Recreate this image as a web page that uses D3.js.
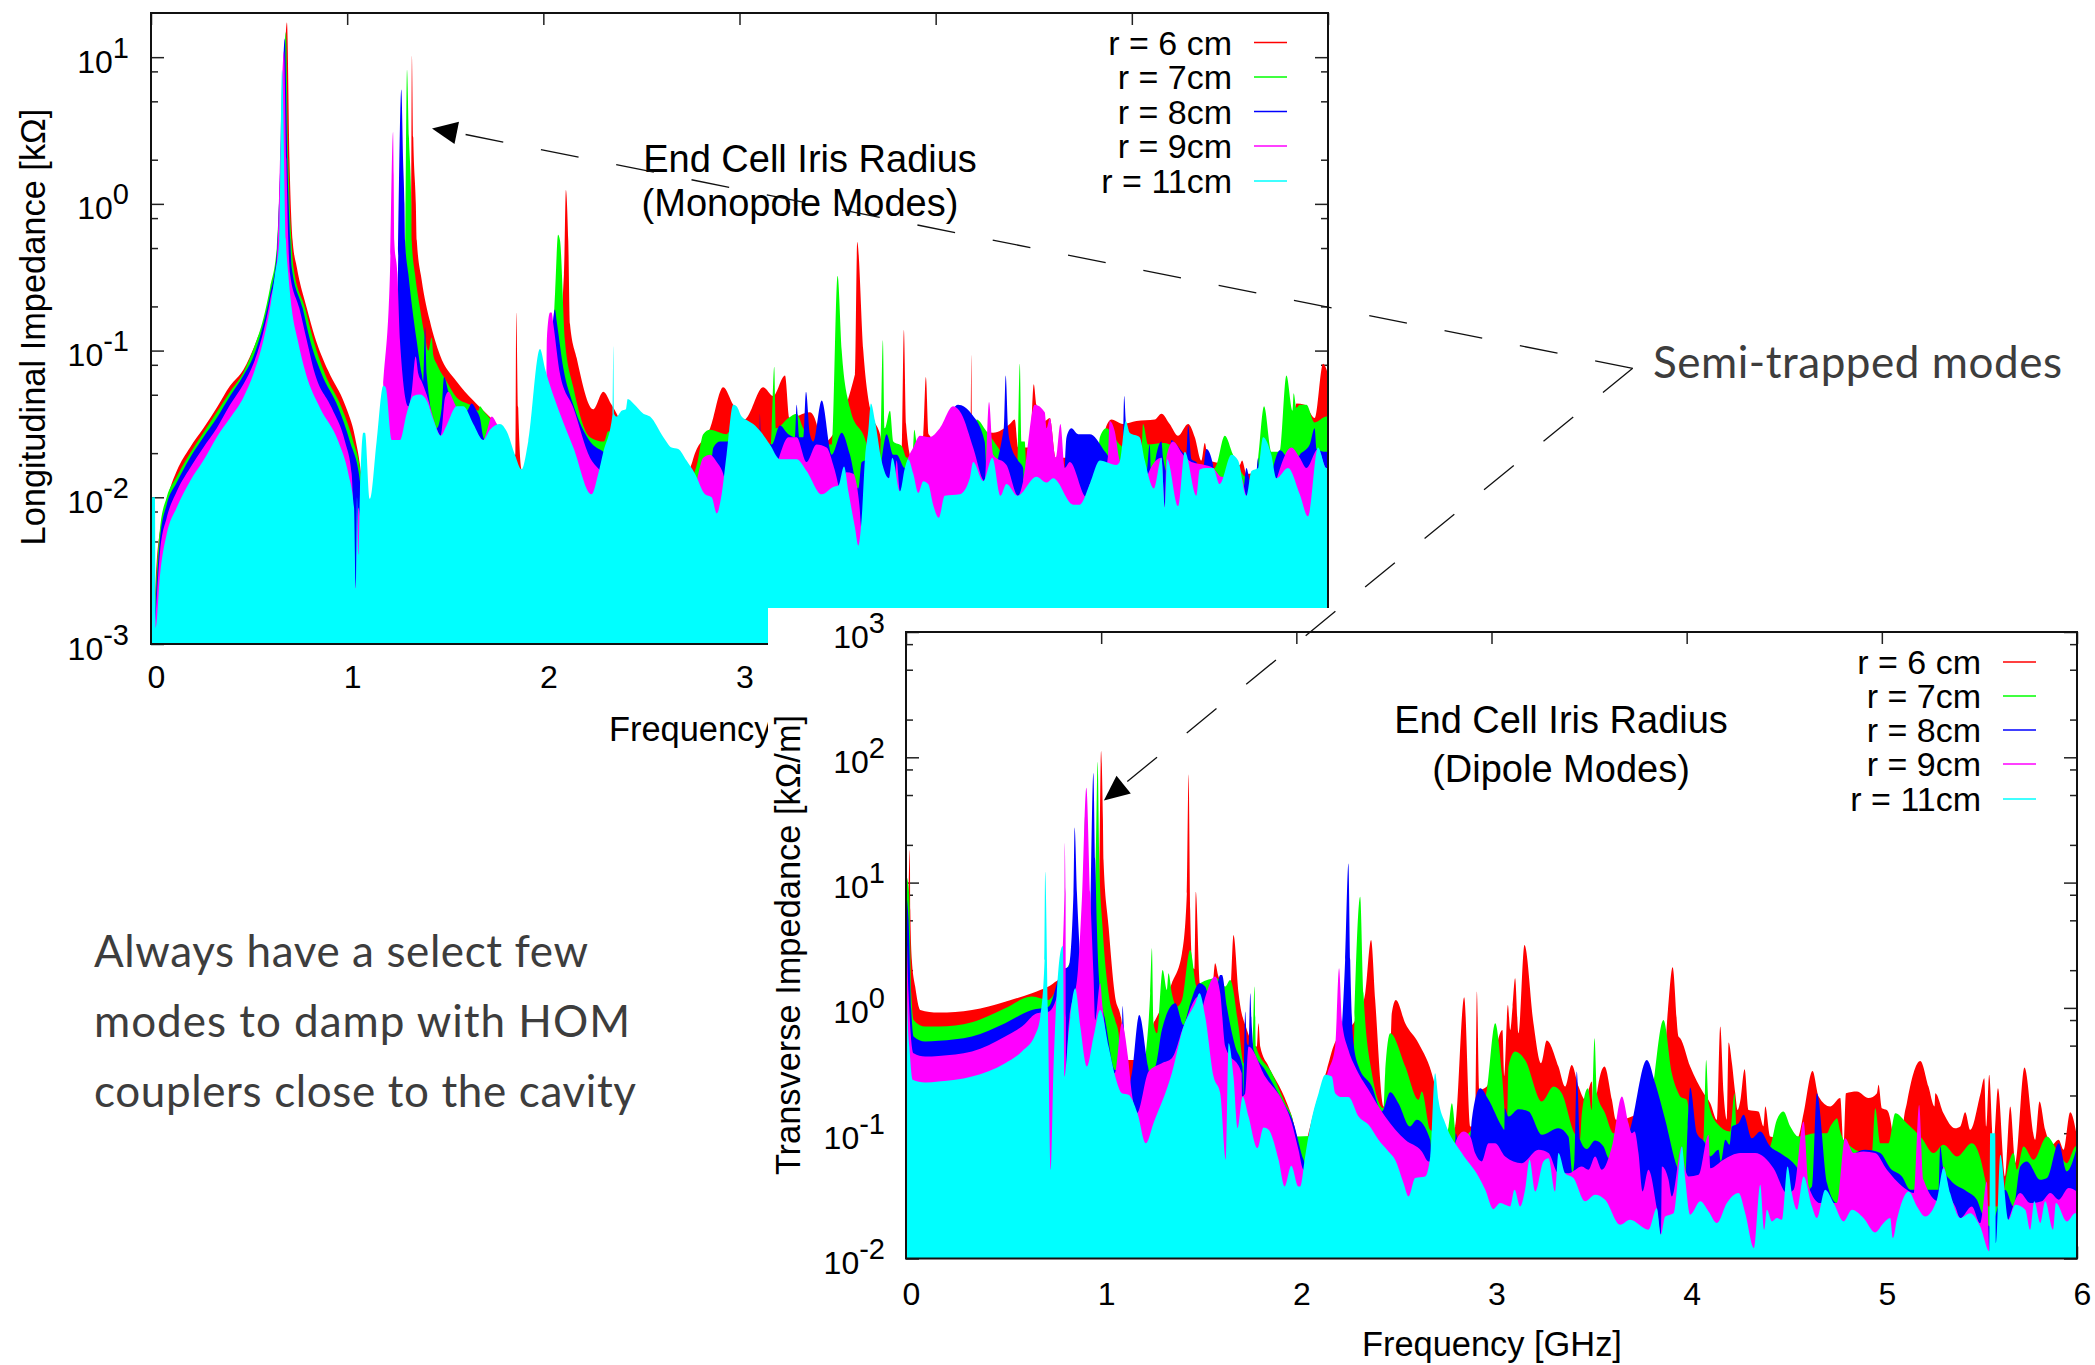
<!DOCTYPE html>
<html>
<head>
<meta charset="utf-8">
<script src="https://cdn.jsdelivr.net/npm/d3@7"></script>
<style>
  html, body { margin: 0; background: #fff; }
  svg { display: block; }
</style>
</head>
<body>
<svg id="chart" width="2095" height="1365"></svg>
<script>
// Every series is a list of [frequency in GHz, log10 of the impedance].
// Longitudinal impedance is in kOhm, transverse impedance in kOhm/m.

const seriesNames = ["r = 6 cm", "r = 7cm", "r = 8cm", "r = 9cm", "r = 11cm"];
const seriesColors = ["#ff0000", "#00ff00", "#0000ff", "#ff00ff", "#00ffff"];
const freqTicks = [0, 1, 2, 3, 4, 5, 6];
const monoDecades = [-3, -2, -1, 0, 1];
const dipoleDecades = [-2, -1, 0, 1, 2, 3];
const minorMantissas = [2, 5, 8];

const monoR6 = [[0.012,-3],[0.029,-2.44],[0.063,-2.12],[0.097,-1.94],[0.131,-1.82],[0.199,-1.66],[0.267,-1.53],[0.335,-1.39],[0.403,-1.24],[0.471,-1.13],[0.539,-0.93],[0.59,-0.73],[0.624,-0.52],[0.649,-0.32],[0.666,0.3],[0.693,1.237],[0.706,0.3],[0.722,-0.25],[0.743,-0.43],[0.794,-0.71],[0.836,-0.91],[0.904,-1.14],[0.989,-1.37],[1.04,-1.59],[1.071,-1.84],[1.1,-2.3],[1.3,-1.6],[1.325,-0.25],[1.33,1.01],[1.337,0.45],[1.35,0],[1.355,-0.25],[1.38,-0.52],[1.422,-0.8],[1.473,-1.03],[1.558,-1.21],[1.643,-1.34],[1.711,-1.43],[1.762,-1.5],[1.847,-1.71],[1.857,-1.71],[1.862,-0.74],[1.872,-1.39],[1.889,-1.81],[2.0,-1.9],[2.105,-0.48],[2.115,0.095],[2.127,-0.25],[2.136,-0.82],[2.17,-1.05],[2.255,-1.4],[2.306,-1.28],[2.348,-1.37],[2.374,-1.43],[2.5,-1.9],[2.73,-1.82],[2.748,-1.8],[2.773,-1.7],[2.85,-1.53],[2.917,-1.25],[2.968,-1.37],[3.028,-1.47],[3.036,-1.46],[3.121,-1.25],[3.172,-1.31],[3.232,-1.17],[3.254,-1.46],[3.359,-1.42],[3.393,-1.5],[3.41,-1.64],[3.589,-1.16],[3.6,-0.26],[3.631,-1.0],[3.665,-1.39],[3.716,-1.57],[3.741,-1.71],[3.827,-1.71],[3.838,-0.86],[3.849,-1.5],[3.877,-1.73],[3.928,-1.62],[3.937,-1.57],[3.95,-1.18],[3.964,-1.57],[4.14,-1.73],[4.177,-1.62],[4.182,-1.03],[4.187,-1.55],[4.293,-1.56],[4.378,-1.5],[4.403,-1.47],[4.42,-1.66],[4.48,-1.66],[4.5,-1.23],[4.514,-1.37],[4.556,-1.48],[4.582,-1.46],[4.612,-1.73],[4.845,-1.73],[4.862,-1.55],[4.896,-1.47],[4.955,-1.5],[5.023,-1.48],[5.117,-1.47],[5.151,-1.43],[5.193,-1.5],[5.236,-1.58],[5.287,-1.5],[5.321,-1.59],[5.355,-1.75],[5.372,-1.63],[5.389,-1.75],[5.55,-1.78],[5.562,-1.75],[5.584,-1.84],[5.822,-1.53],[5.839,-1.36],[5.881,-1.37],[5.932,-1.46],[5.975,-1.09],[6,-1.16]];

const monoR7 = [[0.012,-3],[0.026,-2.59],[0.046,-2.21],[0.08,-2.0],[0.131,-1.86],[0.199,-1.7],[0.267,-1.56],[0.335,-1.42],[0.403,-1.28],[0.471,-1.15],[0.522,-0.99],[0.573,-0.78],[0.607,-0.57],[0.641,-0.3],[0.662,0.3],[0.688,1.17],[0.7,0.3],[0.716,-0.25],[0.726,-0.43],[0.785,-0.71],[0.828,-0.93],[0.887,-1.16],[0.972,-1.39],[1.031,-1.62],[1.069,-1.84],[1.074,-2.07],[1.252,-2.07],[1.295,-0.48],[1.305,0.914],[1.315,0.45],[1.327,0],[1.329,-0.25],[1.346,-0.48],[1.371,-0.71],[1.397,-0.91],[1.414,-1.0],[1.431,-0.91],[1.439,-1.03],[1.456,-1.09],[1.507,-1.21],[1.558,-1.32],[1.626,-1.37],[1.669,-1.41],[1.677,-1.38],[1.694,-1.41],[1.737,-1.48],[1.85,-1.9],[2.017,-1.66],[2.06,-0.6],[2.075,-0.21],[2.085,-0.25],[2.11,-0.93],[2.153,-1.25],[2.238,-1.59],[2.309,-1.62],[2.331,-1.55],[2.5,-1.9],[2.765,-1.84],[2.782,-1.78],[2.815,-1.57],[2.85,-1.54],[2.934,-1.57],[2.951,-1.55],[2.96,-1.73],[3.155,-1.73],[3.164,-1.53],[3.177,-1.11],[3.186,-1.53],[3.249,-1.46],[3.291,-1.43],[3.325,-1.53],[3.376,-1.62],[3.47,-1.64],[3.5,-0.49],[3.521,-1.0],[3.563,-1.39],[3.651,-1.66],[3.665,-1.8],[3.716,-1.73],[3.731,-0.93],[3.741,-1.53],[3.767,-1.41],[3.784,-1.62],[3.827,-1.65],[3.852,-1.73],[3.883,-1.7],[3.891,-1.54],[3.903,-1.62],[4.1,-1.9],[4.191,-1.84],[4.208,-1.47],[4.259,-1.55],[4.344,-1.71],[4.415,-1.84],[4.429,-1.09],[4.437,-1.62],[4.454,-1.62],[4.463,-1.84],[4.82,-1.84],[4.837,-1.59],[4.87,-1.53],[4.938,-1.64],[5.049,-1.71],[5.057,-1.5],[5.083,-1.64],[5.159,-1.63],[5.193,-1.64],[5.278,-1.84],[5.423,-1.8],[5.431,-1.78],[5.474,-1.58],[5.516,-1.71],[5.576,-1.86],[5.627,-1.89],[5.644,-1.73],[5.674,-1.38],[5.711,-1.69],[5.754,-1.69],[5.788,-1.17],[5.819,-1.41],[5.825,-1.29],[5.839,-1.39],[5.856,-1.37],[5.89,-1.37],[5.932,-1.49],[5.992,-1.45],[6,-1.45]];

const monoR8 = [[0.012,-3],[0.026,-2.66],[0.046,-2.28],[0.08,-2.05],[0.131,-1.9],[0.199,-1.73],[0.267,-1.59],[0.335,-1.46],[0.403,-1.31],[0.471,-1.17],[0.522,-1.04],[0.573,-0.82],[0.607,-0.62],[0.641,-0.34],[0.66,0.3],[0.682,1.128],[0.695,0.3],[0.71,-0.25],[0.717,-0.43],[0.773,-0.71],[0.811,-0.93],[0.87,-1.16],[0.955,-1.39],[1.014,-1.62],[1.065,-1.89],[1.074,-2.3],[1.167,-2.3],[1.252,-0.93],[1.276,0.78],[1.285,0.3],[1.292,0],[1.295,-0.25],[1.312,-0.48],[1.354,-0.93],[1.38,-1.16],[1.388,-1.21],[1.397,-0.84],[1.405,-1.16],[1.456,-1.53],[1.482,-1.39],[1.494,-1.18],[1.516,-1.28],[1.558,-1.41],[1.609,-1.41],[1.635,-1.36],[1.66,-1.41],[1.677,-1.46],[1.694,-1.59],[1.85,-1.9],[2.017,-1.62],[2.042,-0.93],[2.059,-0.72],[2.068,-0.8],[2.102,-1.12],[2.153,-1.37],[2.238,-1.62],[2.306,-1.69],[2.5,-1.9],[2.748,-2.07],[2.85,-1.84],[2.867,-1.66],[2.901,-1.62],[2.943,-1.62],[2.951,-1.84],[3.07,-1.84],[3.102,-1.62],[3.104,-1.43],[3.109,-1.59],[3.164,-1.64],[3.206,-1.51],[3.249,-1.57],[3.283,-1.59],[3.291,-1.37],[3.305,-1.59],[3.325,-1.59],[3.339,-1.28],[3.359,-1.57],[3.376,-1.62],[3.419,-1.34],[3.47,-1.71],[3.521,-1.56],[3.563,-1.71],[3.606,-1.94],[3.623,-1.76],[3.645,-1.75],[3.648,-2.07],[3.699,-2.07],[3.728,-1.71],[3.75,-1.57],[3.784,-1.71],[3.801,-1.71],[3.843,-1.8],[3.869,-1.76],[3.937,-1.59],[3.987,-1.59],[4.004,-1.59],[4.114,-1.37],[4.182,-1.43],[4.25,-1.62],[4.262,-1.89],[4.347,-1.53],[4.357,-1.17],[4.369,-1.53],[4.378,-1.62],[4.42,-1.75],[4.446,-1.8],[4.451,-1.98],[4.65,-1.96],[4.667,-1.59],[4.692,-1.53],[4.726,-1.57],[4.786,-1.57],[4.853,-1.67],[4.887,-1.75],[4.896,-1.96],[4.952,-1.84],[4.961,-1.31],[4.969,-1.48],[4.989,-1.84],[5.074,-1.84],[5.091,-1.64],[5.1,-1.94],[5.122,-1.73],[5.151,-1.62],[5.159,-1.73],[5.185,-1.84],[5.202,-1.61],[5.227,-1.64],[5.278,-1.71],[5.287,-1.51],[5.304,-1.74],[5.329,-1.76],[5.355,-1.89],[5.38,-1.67],[5.414,-1.78],[5.431,-1.96],[5.567,-1.96],[5.584,-1.8],[5.598,-1.87],[5.61,-1.96],[5.627,-1.96],[5.644,-1.73],[5.649,-1.84],[5.703,-1.89],[5.72,-1.8],[5.754,-1.68],[5.796,-1.75],[5.813,-1.8],[5.856,-1.71],[5.907,-1.64],[5.932,-1.53],[5.941,-1.67],[5.992,-1.69],[6,-1.69]];

const monoR9 = [[0.012,-3],[0.026,-2.75],[0.046,-2.37],[0.08,-2.14],[0.131,-1.96],[0.199,-1.8],[0.267,-1.66],[0.335,-1.53],[0.403,-1.37],[0.471,-1.23],[0.522,-1.09],[0.573,-0.87],[0.607,-0.66],[0.641,-0.39],[0.678,1.04],[0.69,0.3],[0.7,-0.25],[0.709,-0.48],[0.756,-0.71],[0.794,-0.93],[0.836,-1.16],[0.921,-1.39],[0.989,-1.62],[1.023,-1.84],[1.045,-2.62],[1.057,-2.07],[1.082,-2.3],[1.167,-1.62],[1.184,-1.24],[1.218,-0.48],[1.234,0.49],[1.237,0.2],[1.24,-0.25],[1.256,-0.48],[1.269,-0.93],[1.312,-1.38],[1.329,-1.28],[1.349,-1.04],[1.363,-1.16],[1.38,-1.21],[1.405,-1.3],[1.456,-1.53],[1.477,-1.58],[1.499,-1.32],[1.516,-1.28],[1.541,-1.34],[1.558,-1.39],[1.66,-1.56],[1.694,-1.61],[1.714,-1.54],[1.737,-1.45],[1.762,-1.5],[1.796,-1.62],[1.9,-1.9],[2.015,-1.5],[2.018,-0.92],[2.034,-0.74],[2.042,-0.74],[2.051,-0.82],[2.085,-1.16],[2.153,-1.39],[2.238,-1.73],[2.285,-1.81],[2.493,-2.07],[2.781,-1.89],[2.79,-1.84],[2.815,-1.73],[2.85,-1.71],[2.884,-1.76],[2.921,-1.86],[2.951,-2.07],[3.138,-2.07],[3.206,-1.71],[3.249,-1.59],[3.291,-1.59],[3.342,-1.76],[3.393,-1.64],[3.444,-1.66],[3.478,-1.78],[3.504,-1.92],[3.521,-2.07],[3.543,-1.83],[3.58,-1.84],[3.597,-1.91],[3.611,-2.05],[3.623,-2.23],[3.784,-2.07],[3.801,-1.75],[3.818,-1.96],[3.86,-1.73],[3.886,-1.66],[3.92,-1.58],[3.97,-1.59],[4.021,-1.53],[4.089,-1.38],[4.131,-1.43],[4.191,-1.66],[4.25,-1.89],[4.272,-1.35],[4.293,-1.71],[4.361,-1.78],[4.42,-1.99],[4.446,-1.89],[4.505,-1.37],[4.556,-1.42],[4.565,-1.53],[4.582,-1.46],[4.612,-1.73],[4.636,-1.5],[4.658,-1.8],[4.684,-1.76],[4.769,-2.0],[4.786,-1.91],[4.82,-2.07],[4.879,-1.71],[4.887,-1.48],[4.913,-1.55],[4.938,-1.75],[5.057,-1.96],[5.083,-1.84],[5.151,-1.73],[5.168,-2.07],[5.176,-1.73],[5.21,-1.62],[5.261,-1.71],[5.304,-1.76],[5.372,-1.78],[5.414,-1.8],[5.457,-1.86],[5.559,-1.87],[5.584,-1.99],[5.669,-2.07],[5.813,-1.66],[5.856,-1.73],[5.89,-1.8],[5.949,-1.67],[5.992,-1.8],[6,-1.8]];

const monoR11 = [[0.003,-2.0],[0.02,-2.0],[0.024,-2.89],[0.046,-2.53],[0.08,-2.25],[0.131,-2.07],[0.199,-1.89],[0.267,-1.75],[0.335,-1.59],[0.403,-1.46],[0.471,-1.32],[0.522,-1.16],[0.573,-0.93],[0.607,-0.71],[0.632,-0.48],[0.654,-0.25],[0.668,0.914],[0.688,-0.25],[0.7,-0.48],[0.717,-0.71],[0.748,-0.93],[0.79,-1.16],[0.861,-1.39],[0.955,-1.62],[1.006,-1.84],[1.035,-2.07],[1.045,-2.62],[1.05,-2.0],[1.057,-2.39],[1.065,-1.98],[1.082,-1.56],[1.091,-1.56],[1.116,-2.01],[1.15,-1.62],[1.184,-1.24],[1.196,-1.25],[1.227,-1.61],[1.269,-1.61],[1.303,-1.43],[1.337,-1.31],[1.371,-1.3],[1.405,-1.34],[1.439,-1.47],[1.477,-1.58],[1.507,-1.51],[1.558,-1.38],[1.592,-1.38],[1.643,-1.5],[1.694,-1.61],[1.728,-1.54],[1.779,-1.5],[1.813,-1.55],[1.855,-1.71],[1.889,-1.81],[1.923,-1.62],[1.983,-0.99],[2.008,-1.12],[2.085,-1.43],[2.153,-1.66],[2.246,-1.98],[2.28,-1.84],[2.306,-1.69],[2.353,-1.43],[2.357,-0.97],[2.36,-1.43],[2.374,-1.45],[2.399,-1.41],[2.421,-1.4],[2.43,-1.33],[2.459,-1.36],[2.51,-1.43],[2.544,-1.45],[2.612,-1.59],[2.654,-1.66],[2.688,-1.67],[2.73,-1.75],[2.773,-1.84],[2.824,-1.98],[2.858,-2.0],[2.884,-2.11],[2.909,-1.98],[2.934,-1.71],[2.968,-1.37],[2.985,-1.38],[3.011,-1.45],[3.045,-1.48],[3.07,-1.5],[3.113,-1.56],[3.155,-1.64],[3.206,-1.74],[3.249,-1.74],[3.291,-1.74],[3.342,-1.82],[3.419,-1.98],[3.478,-1.93],[3.504,-1.92],[3.533,-1.79],[3.555,-1.96],[3.589,-2.21],[3.606,-2.33],[3.623,-2.14],[3.64,-1.73],[3.656,-1.55],[3.67,-1.36],[3.691,-1.48],[3.724,-1.75],[3.762,-1.87],[3.779,-1.73],[3.818,-1.96],[3.843,-1.8],[3.86,-1.74],[3.886,-1.84],[3.911,-1.97],[3.937,-1.89],[3.962,-1.91],[3.987,-2.05],[4.016,-2.14],[4.046,-1.99],[4.123,-1.98],[4.174,-1.87],[4.191,-1.76],[4.242,-1.89],[4.289,-1.73],[4.33,-1.99],[4.361,-1.91],[4.417,-1.99],[4.514,-1.86],[4.565,-1.9],[4.599,-1.87],[4.701,-2.05],[4.735,-2.05],[4.786,-1.91],[4.837,-1.75],[4.921,-1.78],[4.938,-1.76],[4.969,-1.48],[4.989,-1.56],[5.04,-1.59],[5.066,-1.75],[5.112,-1.94],[5.151,-1.73],[5.168,-2.07],[5.18,-1.74],[5.236,-2.06],[5.27,-1.69],[5.329,-1.99],[5.346,-1.81],[5.38,-1.8],[5.414,-1.8],[5.448,-1.91],[5.508,-1.71],[5.542,-1.75],[5.584,-1.99],[5.61,-1.82],[5.644,-1.8],[5.669,-1.59],[5.711,-1.71],[5.737,-1.87],[5.796,-1.8],[5.856,-1.98],[5.898,-2.13],[5.949,-1.66],[5.992,-1.8],[6,-1.8]];

const dipoleR6 = [[0.01,0.648],[0.02,1.26],[0.022,0.781],[0.03,0.383],[0.047,0.17],[0.073,-0.016],[0.167,-0.037],[0.338,-0.016],[0.508,0.05],[0.645,0.117],[0.73,0.17],[0.79,0.223],[0.884,0.223],[0.987,0.648],[0.9995,2.05],[1.009,1.5],[1.012,1.18],[1.038,0.648],[1.069,0.117],[1.106,-0.122],[1.123,-0.415],[1.251,-0.415],[1.268,-0.122],[1.277,-0.096],[1.362,0.197],[1.414,0.436],[1.439,0.914],[1.448,1.863],[1.456,0.781],[1.468,0.329],[1.478,0.31],[1.485,0.927],[1.507,0.197],[1.525,0.197],[1.567,0.117],[1.584,0.356],[1.601,0.25],[1.661,0.117],[1.678,0.582],[1.704,0.117],[1.747,-0.176],[1.798,-0.309],[1.806,-0.122],[1.815,-0.309],[1.858,-0.468],[1.926,-0.667],[1.952,-0.76],[1.977,-0.867],[2.003,-1.03],[2.03,-1.2],[2.062,-1.0],[2.088,-0.84],[2.156,-0.495],[2.19,-0.309],[2.319,-0.043],[2.353,0.117],[2.383,0.542],[2.404,0.064],[2.447,-0.787],[2.481,-0.415],[2.489,-0.043],[2.51,0.064],[2.558,-0.122],[2.626,-0.282],[2.703,-0.574],[2.745,-0.893],[2.78,-1.026],[2.814,-0.946],[2.86,0.085],[2.891,-0.946],[2.916,-0.946],[2.925,0.13],[2.937,-0.654],[2.976,-0.628],[3.056,-0.176],[3.065,-0.548],[3.084,0.024],[3.096,-0.176],[3.108,0.01],[3.121,0.236],[3.138,-0.202],[3.169,0.502],[3.215,-0.122],[3.254,-0.441],[3.283,-0.261],[3.343,-0.468],[3.377,-0.628],[3.411,-0.455],[3.446,-0.628],[3.48,-0.734],[3.514,-0.588],[3.523,-1.053],[3.54,-0.681],[3.579,-0.468],[3.617,-0.734],[3.637,-0.893],[3.873,-0.681],[3.904,-0.016],[3.928,0.324],[3.958,-0.229],[3.967,-0.242],[4.018,-0.468],[4.087,-0.681],[4.121,-0.76],[4.155,-0.893],[4.172,-0.149],[4.189,-0.681],[4.206,-0.893],[4.215,-0.277],[4.232,-0.441],[4.249,-0.681],[4.261,-0.814],[4.274,-0.747],[4.297,-0.489],[4.317,-0.814],[4.368,-0.827],[4.394,-0.946],[4.403,-0.787],[4.428,-1.026],[4.556,-1.053],[4.573,-1.026],[4.599,-0.84],[4.645,-0.503],[4.676,-0.707],[4.736,-0.787],[4.787,-0.72],[4.804,-1.106],[4.816,-0.681],[4.872,-0.667],[4.932,-0.72],[4.975,-0.681],[4.983,-0.614],[5.0,-0.8],[5.026,-0.814],[5.052,-0.973],[5.06,-1.106],[5.103,-1.106],[5.111,-0.92],[5.128,-0.76],[5.197,-0.423],[5.239,-0.628],[5.27,-0.787],[5.274,-0.681],[5.316,-0.84],[5.376,-0.96],[5.402,-0.946],[5.427,-0.832],[5.453,-0.973],[5.504,-0.694],[5.525,-0.561],[5.535,-0.946],[5.55,-0.534],[5.573,-1.08],[5.595,-0.641],[5.632,-1.345],[5.658,-0.787],[5.684,-1.239],[5.731,-0.476],[5.786,-1.053],[5.808,-0.747],[5.837,-0.973],[5.871,-1.093],[5.906,-1.053],[5.931,-1.133],[5.965,-0.832],[6,-1.026]];

const dipoleR7 = [[0.004,1.047],[0.016,0.914],[0.027,0.117],[0.039,-0.096],[0.098,-0.149],[0.167,-0.149],[0.338,-0.114],[0.508,-0.003],[0.645,0.09],[0.73,0.064],[0.79,0.21],[0.85,0.383],[0.888,0.436],[0.91,0.914],[0.918,1.54],[0.927,0.914],[0.95,0.5],[0.973,1.18],[0.982,1.965],[0.99,1.18],[1.007,0.648],[1.038,0.117],[1.072,-0.1],[1.089,-0.202],[1.106,-0.628],[1.212,-0.628],[1.226,-0.415],[1.251,0.117],[1.26,0.476],[1.268,-0.122],[1.286,-0.202],[1.315,0.303],[1.337,0.143],[1.345,0.276],[1.362,0.117],[1.388,0.01],[1.414,0.064],[1.456,0.462],[1.49,0.17],[1.507,0.197],[1.593,0.236],[1.636,0.17],[1.661,0.223],[1.704,-0.149],[1.73,-0.441],[1.772,-0.415],[1.786,0.17],[1.793,-0.309],[1.875,-0.521],[1.943,-0.76],[1.977,-0.867],[2.003,-1.026],[2.284,-0.946],[2.298,-0.096],[2.327,0.888],[2.344,0.117],[2.387,-0.521],[2.447,-0.8],[2.455,-0.521],[2.481,-0.202],[2.558,-0.468],[2.626,-0.734],[2.643,-0.667],[2.686,-0.973],[2.763,-1.026],[2.78,-0.946],[2.797,-0.76],[2.822,-1.053],[2.959,-0.787],[2.976,-0.654],[3.019,-0.122],[3.053,-0.521],[3.079,-0.973],[3.087,-0.468],[3.121,-0.348],[3.172,-0.415],[3.258,-0.747],[3.318,-0.628],[3.36,-0.681],[3.425,-1.0],[3.454,-1.053],[3.463,-0.84],[3.494,-0.641],[3.514,-0.814],[3.528,-0.242],[3.54,-0.681],[3.582,-0.84],[3.625,-1.0],[3.804,-0.946],[3.83,-0.601],[3.881,-0.096],[3.924,-0.521],[3.958,-0.681],[3.967,-0.707],[4.001,-0.734],[4.018,-0.9],[4.052,-1.1],[4.087,-1.053],[4.1,-0.415],[4.112,-0.76],[4.155,-0.92],[4.223,-0.986],[4.245,-0.681],[4.257,-1.0],[4.411,-1.133],[4.428,-1.106],[4.462,-0.893],[4.496,-0.827],[4.531,-0.946],[4.573,-1.026],[4.659,-1.0],[4.719,-1.0],[4.736,-0.946],[4.761,-0.893],[4.77,-0.88],[4.787,-0.986],[4.804,-1.053],[4.923,-1.159],[4.949,-1.159],[4.966,-0.8],[4.992,-1.08],[5.034,-1.08],[5.069,-0.84],[5.128,-0.92],[5.205,-1.04],[5.265,-1.159],[5.316,-1.093],[5.385,-1.186],[5.461,-1.08],[5.53,-1.372],[5.547,-1.584],[5.615,-1.584],[5.632,-1.398],[5.675,-1.159],[5.692,-1.292],[5.726,-1.106],[5.777,-1.212],[5.846,-1.026],[5.906,-1.159],[5.948,-1.239],[5.991,-1.106],[6,-1.1]];

const dipoleR8 = [[0.001,0.914],[0.013,0.702],[0.027,-0.016],[0.039,-0.229],[0.098,-0.269],[0.167,-0.263],[0.338,-0.229],[0.508,-0.122],[0.645,-0.016],[0.73,0.01],[0.799,0.303],[0.833,0.33],[0.858,0.914],[0.864,1.44],[0.876,0.914],[0.893,0.383],[0.927,-0.149],[0.944,0.648],[0.96,1.874],[0.97,1.18],[0.978,0.648],[0.995,0.117],[1.021,-0.1],[1.072,-0.495],[1.103,-0.495],[1.11,0.016],[1.116,-0.149],[1.14,-0.628],[1.157,-0.521],[1.195,-0.056],[1.24,-0.468],[1.251,-0.548],[1.286,-0.415],[1.311,-0.176],[1.38,0.037],[1.422,-0.136],[1.45,0.0],[1.504,0.197],[1.533,0.17],[1.559,0.05],[1.585,0.1],[1.61,0.263],[1.619,0.263],[1.644,0.01],[1.687,-0.309],[1.724,-0.468],[1.728,-0.707],[1.735,-0.149],[1.738,-0.029],[1.747,-0.282],[1.755,-0.3],[1.764,0.117],[1.772,-0.15],[1.781,-0.335],[1.84,-0.495],[1.926,-0.734],[1.986,-0.92],[2.037,-1.212],[2.045,-1.239],[2.199,-0.681],[2.25,0.383],[2.267,1.153],[2.276,0.383],[2.293,-0.282],[2.319,-0.468],[2.387,-0.628],[2.438,-0.827],[2.481,-0.673],[2.523,-0.76],[2.583,-0.946],[2.617,-0.893],[2.686,-1.053],[2.694,-1.212],[2.81,-1.212],[2.817,-1.0],[2.831,-1.08],[2.891,-1.026],[2.899,-0.893],[2.942,-0.641],[2.985,-0.734],[3.053,-0.946],[3.066,-0.973],[3.068,-0.8],[3.087,-0.867],[3.138,-0.808],[3.19,-0.827],[3.258,-1.013],[3.343,-0.96],[3.394,-1.026],[3.415,-1.319],[3.425,-1.212],[3.437,-0.508],[3.454,-1.053],[3.488,-1.127],[3.531,-1.058],[3.574,-1.106],[3.6,-1.199],[3.634,-1.212],[3.71,-0.973],[3.796,-0.415],[3.839,-0.601],[3.89,-0.893],[3.95,-1.265],[3.975,-1.345],[3.993,-1.345],[4.005,-0.946],[4.018,-0.635],[4.052,-1.0],[4.095,-1.08],[4.121,-1.186],[4.163,-1.133],[4.175,-1.225],[4.198,-1.053],[4.22,-1.093],[4.232,-0.946],[4.266,-0.92],[4.292,-0.853],[4.334,-1.04],[4.377,-0.986],[4.428,-1.106],[4.479,-1.159],[4.582,-1.319],[4.59,-1.478],[4.642,-1.425],[4.667,-0.681],[4.719,-1.398],[4.77,-1.558],[4.838,-1.212],[4.855,-1.172],[4.915,-1.133],[4.992,-1.159],[5.043,-1.279],[5.103,-1.345],[5.146,-1.451],[5.265,-1.451],[5.291,-1.451],[5.299,-1.106],[5.316,-1.292],[5.35,-1.372],[5.436,-1.465],[5.487,-1.531],[5.513,-1.638],[5.555,-1.744],[5.632,-1.451],[5.675,-1.584],[5.709,-1.265],[5.743,-1.225],[5.812,-1.372],[5.846,-1.358],[5.906,-1.08],[5.948,-1.305],[6,-1.106]];

const dipoleR9 = [[0.001,0.78],[0.013,0.117],[0.039,-0.362],[0.098,-0.388],[0.167,-0.383],[0.338,-0.348],[0.508,-0.229],[0.594,-0.149],[0.671,-0.043],[0.73,-0.03],[0.79,0.197],[0.812,0.914],[0.813,1.316],[0.818,0.914],[0.82,-0.548],[0.833,-0.149],[0.881,0.303],[0.901,0.861],[0.924,1.757],[0.944,0.914],[0.961,0.25],[0.969,-0.096],[0.995,0.197],[1.007,0.01],[1.069,-0.521],[1.106,-0.122],[1.137,-0.388],[1.157,-0.681],[1.183,-0.84],[1.243,-0.508],[1.311,-0.441],[1.362,-0.402],[1.422,-0.149],[1.499,0.09],[1.516,-0.016],[1.525,0.037],[1.584,0.25],[1.61,0.117],[1.636,-0.309],[1.72,-0.521],[1.722,-0.707],[1.738,-0.681],[1.755,-0.309],[1.84,-0.548],[1.926,-0.734],[1.977,-0.92],[2.011,-1.133],[2.037,-1.292],[2.114,-0.946],[2.156,-0.548],[2.199,-0.309],[2.219,0.316],[2.233,-0.096],[2.267,-0.335],[2.301,-0.468],[2.37,-0.654],[2.455,-0.867],[2.558,-1.053],[2.643,-1.146],[2.677,-1.225],[2.797,-1.212],[2.814,-1.08],[2.857,-0.986],[2.891,-1.026],[2.916,-1.159],[2.95,-1.225],[2.985,-1.08],[3.019,-1.08],[3.07,-1.186],[3.155,-1.239],[3.241,-1.133],[3.292,-1.159],[3.343,-1.319],[3.394,-1.319],[3.463,-1.265],[3.497,-1.292],[3.531,-1.186],[3.565,-1.292],[3.617,-1.106],[3.668,-0.707],[3.702,-0.92],[3.719,-1.0],[3.733,-0.986],[3.753,-1.159],[3.774,-1.465],[3.804,-1.292],[3.847,-1.598],[3.868,-1.81],[3.873,-1.265],[3.907,-1.372],[3.924,-1.505],[3.975,-1.106],[3.984,-1.212],[4.01,-1.345],[4.061,-1.332],[4.112,-1.013],[4.121,-1.279],[4.189,-1.212],[4.274,-1.159],[4.351,-1.159],[4.445,-1.279],[4.514,-1.478],[4.548,-1.451],[4.599,-0.907],[4.625,-1.425],[4.684,-1.558],[4.77,-1.558],[4.812,-1.04],[4.855,-1.159],[4.906,-1.146],[4.966,-1.159],[5.026,-1.292],[5.128,-1.451],[5.163,-1.478],[5.191,-0.774],[5.214,-1.372],[5.291,-1.544],[5.316,-1.265],[5.35,-1.505],[5.376,-1.584],[5.402,-1.677],[5.461,-1.584],[5.504,-1.717],[5.538,-1.385],[5.552,-1.943],[5.607,-1.877],[5.649,-1.691],[5.709,-1.478],[5.76,-1.558],[5.82,-1.544],[5.863,-1.478],[5.906,-1.531],[5.957,-1.438],[6,-1.465]];

const dipoleR11 = [[0.001,0.383],[0.01,-0.149],[0.017,-0.31],[0.034,-0.574],[0.098,-0.596],[0.167,-0.588],[0.338,-0.548],[0.508,-0.441],[0.594,-0.348],[0.662,-0.215],[0.688,-0.07],[0.71,0.383],[0.713,1.086],[0.727,-0.016],[0.741,-1.292],[0.756,-0.468],[0.799,0.489],[0.804,0.494],[0.812,-0.548],[0.833,-0.202],[0.867,0.157],[0.893,-0.149],[0.927,-0.468],[0.961,-0.229],[0.995,-0.016],[1.038,-0.309],[1.072,-0.548],[1.106,-0.681],[1.14,-0.694],[1.186,-0.84],[1.229,-1.08],[1.268,-0.92],[1.362,-0.521],[1.422,-0.149],[1.482,0.037],[1.504,0.117],[1.533,-0.069],[1.576,-0.548],[1.61,-0.681],[1.639,-1.212],[1.653,-0.282],[1.678,-0.548],[1.699,-0.96],[1.725,-0.707],[1.755,-0.867],[1.801,-1.119],[1.832,-0.954],[1.858,-0.973],[1.909,-1.212],[1.94,-1.425],[1.974,-1.26],[2.011,-1.425],[2.02,-1.425],[2.045,-1.186],[2.071,-0.946],[2.114,-0.681],[2.148,-0.534],[2.182,-0.548],[2.199,-0.681],[2.233,-0.712],[2.267,-0.712],[2.319,-0.867],[2.37,-0.933],[2.421,-1.053],[2.472,-1.146],[2.506,-1.212],[2.549,-1.398],[2.575,-1.505],[2.609,-1.358],[2.66,-1.345],[2.686,-1.186],[2.711,-0.521],[2.728,-0.734],[2.763,-0.92],[2.848,-1.159],[2.933,-1.345],[2.968,-1.451],[3.01,-1.606],[3.044,-1.558],[3.07,-1.571],[3.096,-1.584],[3.118,-1.451],[3.147,-1.584],[3.172,-1.451],[3.195,-1.212],[3.224,-1.465],[3.266,-1.225],[3.292,-1.199],[3.326,-1.465],[3.343,-1.159],[3.377,-1.319],[3.42,-1.358],[3.48,-1.544],[3.531,-1.491],[3.582,-1.531],[3.659,-1.731],[3.71,-1.691],[3.804,-1.77],[3.847,-1.598],[3.868,-1.81],[3.89,-1.664],[3.933,-1.638],[3.976,-1.106],[3.993,-1.372],[4.018,-1.651],[4.07,-1.544],[4.112,-1.624],[4.155,-1.717],[4.206,-1.558],[4.266,-1.478],[4.3,-1.638],[4.346,-1.917],[4.377,-1.412],[4.397,-1.77],[4.411,-1.611],[4.437,-1.704],[4.462,-1.677],[4.488,-1.691],[4.517,-1.265],[4.539,-1.478],[4.565,-1.611],[4.599,-1.345],[4.642,-1.584],[4.667,-1.677],[4.71,-1.451],[4.753,-1.558],[4.804,-1.704],[4.847,-1.611],[4.906,-1.677],[4.966,-1.792],[5.009,-1.717],[5.043,-1.677],[5.057,-1.837],[5.077,-1.691],[5.137,-1.465],[5.18,-1.584],[5.222,-1.664],[5.282,-1.531],[5.316,-1.279],[5.35,-1.478],[5.402,-1.677],[5.453,-1.638],[5.504,-1.744],[5.552,-1.943],[5.555,-1.0],[5.581,-1.0],[5.584,-1.877],[5.607,-1.172],[5.649,-1.691],[5.684,-1.571],[5.735,-1.611],[5.76,-1.77],[5.781,-1.544],[5.812,-1.717],[5.837,-1.544],[5.877,-1.77],[5.892,-1.558],[5.948,-1.704],[5.991,-1.638],[6,-1.638]];

const monoSeries = [monoR6, monoR7, monoR8, monoR9, monoR11];
const dipoleSeries = [dipoleR6, dipoleR7, dipoleR8, dipoleR9, dipoleR11];

const textFont = "'Liberation Sans', Arial, sans-serif";
const svg = d3.select("#chart");

//Draw one gnuplot style panel: axes first, filled curves over them, then the border
function drawPanel(cfg) {
    let width = cfg.right - cfg.left;
    let height = cfg.bottom - cfg.top;

    let xScale = d3.scaleLinear().domain([0, 6]).range([0, width]);
    let yScale = d3.scaleLog().domain(cfg.yDomain).range([height, 0]);

    let g = svg.append("g")
        .attr("transform", `translate(${cfg.left},${cfg.top})`)
        .style("font-family", textFont);

    let majors = cfg.decades.map(d => Math.pow(10, d));
    let minors = [];
    cfg.decades.forEach(d => minorMantissas.forEach(m => {
        let v = m * Math.pow(10, d);
        if (v < cfg.yDomain[1]) minors.push(v);
    }));

    //Ticks point inwards on all sides
    let styleAxis = sel => {
        sel.selectAll(".domain").remove();
        sel.selectAll("line").attr("stroke", "#222").attr("stroke-width", 1.5);
    };
    g.append("g").call(d3.axisLeft(yScale).tickValues(minors).tickSizeInner(-7).tickFormat("")).call(styleAxis);
    g.append("g").attr("transform", `translate(${width},0)`)
        .call(d3.axisRight(yScale).tickValues(minors).tickSizeInner(-7).tickFormat("")).call(styleAxis);
    g.append("g").attr("transform", `translate(${width},0)`)
        .call(d3.axisRight(yScale).tickValues(majors).tickSizeInner(-13).tickFormat("")).call(styleAxis);
    g.append("g").call(d3.axisTop(xScale).tickValues(freqTicks).tickSizeInner(-12).tickFormat("")).call(styleAxis);

    let yAxis = g.append("g").call(d3.axisLeft(yScale).tickValues(majors).tickSizeInner(-13).tickFormat("")).call(styleAxis);
    yAxis.selectAll(".tick").each(function (d) {
        let label = d3.select(this).select("text")
            .attr("x", cfg.yLabelX - cfg.left)
            .attr("y", 15)
            .attr("dy", 0)
            .attr("text-anchor", "end")
            .attr("font-size", 32)
            .attr("fill", "#000");
        label.append("tspan").text("10");
        label.append("tspan")
            .attr("dy", -15)
            .attr("font-size", 29)
            .text(Math.round(Math.log10(d)));
    });

    //Labels hidden by the pasted second plot are left out
    let xAxis = g.append("g").attr("transform", `translate(0,${height})`)
        .call(d3.axisBottom(xScale).tickValues(freqTicks).tickSizeInner(-12)
            .tickFormat(d => d <= cfg.lastXLabel ? d3.format("d")(d) : ""))
        .call(styleAxis);
    xAxis.selectAll("text")
        .attr("x", 5)
        .attr("y", cfg.xLabelDrop)
        .attr("dy", 0)
        .attr("font-size", 32)
        .attr("fill", "#000");

    let area = d3.area()
        .curve(d3.curveMonotoneX)
        .x(d => xScale(d[0]))
        .y0(height)
        .y1(d => yScale(Math.pow(10, d[1])));

    g.append("g").selectAll("path")
        .data(cfg.series)
        .join("path")
        .attr("d", area)
        .attr("fill", (d, i) => seriesColors[i]);

    g.append("rect")
        .attr("width", width)
        .attr("height", height)
        .attr("fill", "none")
        .attr("stroke", "#111")
        .attr("stroke-width", 2);

    //Legend rows
    let legend = svg.append("g").style("font-family", textFont);
    seriesNames.forEach((name, i) => {
        let rowY = cfg.legendY[i];
        legend.append("text")
            .attr("x", cfg.legendTextX)
            .attr("y", rowY + 12)
            .attr("text-anchor", "end")
            .attr("font-size", 34)
            .text(name);
        legend.append("line")
            .attr("x1", cfg.legendLine[0])
            .attr("x2", cfg.legendLine[1])
            .attr("y1", rowY)
            .attr("y2", rowY)
            .attr("stroke", seriesColors[i])
            .attr("stroke-width", 1.4);
    });

    //Panel text
    let texts = svg.append("g").style("font-family", textFont).attr("fill", "#000");
    cfg.title.forEach(t => {
        texts.append("text")
            .attr("x", t.x).attr("y", t.y)
            .attr("text-anchor", "middle")
            .attr("font-size", 38)
            .text(t.text);
    });
    texts.append("text")
        .attr("transform", `translate(${cfg.yTitle.x},${cfg.yTitle.y}) rotate(-90)`)
        .attr("text-anchor", "middle")
        .attr("font-size", 34.4)
        .text(cfg.yTitle.text);
    texts.append("text")
        .attr("x", cfg.xTitle.x).attr("y", cfg.xTitle.y)
        .attr("font-size", 34.4)
        .text(cfg.xTitle.text);
}

drawPanel({
    left: 151, right: 1328, top: 13, bottom: 644,
    yDomain: [1e-3, 20],
    decades: monoDecades,
    series: monoSeries,
    yLabelX: 129,
    xLabelDrop: 44,
    lastXLabel: 3,
    legendY: [42.5, 77, 111.5, 146, 181],
    legendTextX: 1232,
    legendLine: [1254, 1287],
    title: [
        { text: "End Cell Iris Radius", x: 810, y: 172 },
        { text: "(Monopole Modes)", x: 800, y: 216 }
    ],
    yTitle: { text: "Longitudinal Impedance [kΩ]", x: 45, y: 327 },
    xTitle: { text: "Frequency", x: 609, y: 741 }
});

//The second plot is pasted over the corner of the first one
svg.append("rect")
    .attr("x", 768).attr("y", 608)
    .attr("width", 1327).attr("height", 757)
    .attr("fill", "#fff");

drawPanel({
    left: 906, right: 2077, top: 632, bottom: 1258.5,
    yDomain: [1e-2, 1e3],
    decades: dipoleDecades,
    series: dipoleSeries,
    yLabelX: 885,
    xLabelDrop: 46,
    lastXLabel: 6,
    legendY: [662, 696, 730, 764, 799],
    legendTextX: 1981,
    legendLine: [2003, 2036],
    title: [
        { text: "End Cell Iris Radius", x: 1561, y: 733 },
        { text: "(Dipole Modes)", x: 1561, y: 782 }
    ],
    yTitle: { text: "Transverse Impedance [kΩ/m]", x: 800, y: 945 },
    xTitle: { text: "Frequency [GHz]", x: 1362, y: 1356 }
});

//Annotation arrows, dashed from the arrow head towards the shared corner
const corner = [1632.7, 368.3];
const arrows = [
    { start: [465.6, 134.5], head: [[432, 128.5], [459, 121.7], [454.5, 144]] },
    { start: [1127.3, 781.5], head: [[1103.9, 800.5], [1116.5, 775.8], [1130.8, 793.4]] }
];
let arrowLine = d3.line();
let notes = svg.append("g");
arrows.forEach(a => {
    notes.append("path")
        .attr("d", arrowLine([a.start, corner]))
        .attr("fill", "none")
        .attr("stroke", "#111")
        .attr("stroke-width", 1.3)
        .attr("stroke-dasharray", "38.4 38.4");
    notes.append("path")
        .attr("d", arrowLine(a.head) + "Z")
        .attr("fill", "#000");
});

//Slide text
const slideLines = [
    { text: "Semi-trapped modes", x: 1653, y: 378, width: 409 },
    { text: "Always have a select few", x: 94, y: 967, width: 494 },
    { text: "modes to damp with HOM", x: 94, y: 1037, width: 536 },
    { text: "couplers close to the cavity", x: 94, y: 1107, width: 542 }
];
notes.selectAll("text.slide")
    .data(slideLines)
    .join("text")
    .attr("class", "slide")
    .attr("x", d => d.x)
    .attr("y", d => d.y)
    .attr("textLength", d => d.width)
    .attr("lengthAdjust", "spacing")
    .attr("font-family", "Lato, 'Open Sans', sans-serif")
    .attr("font-size", 44)
    .attr("fill", "#3d3d3d")
    .text(d => d.text);
</script>
</body>
</html>
